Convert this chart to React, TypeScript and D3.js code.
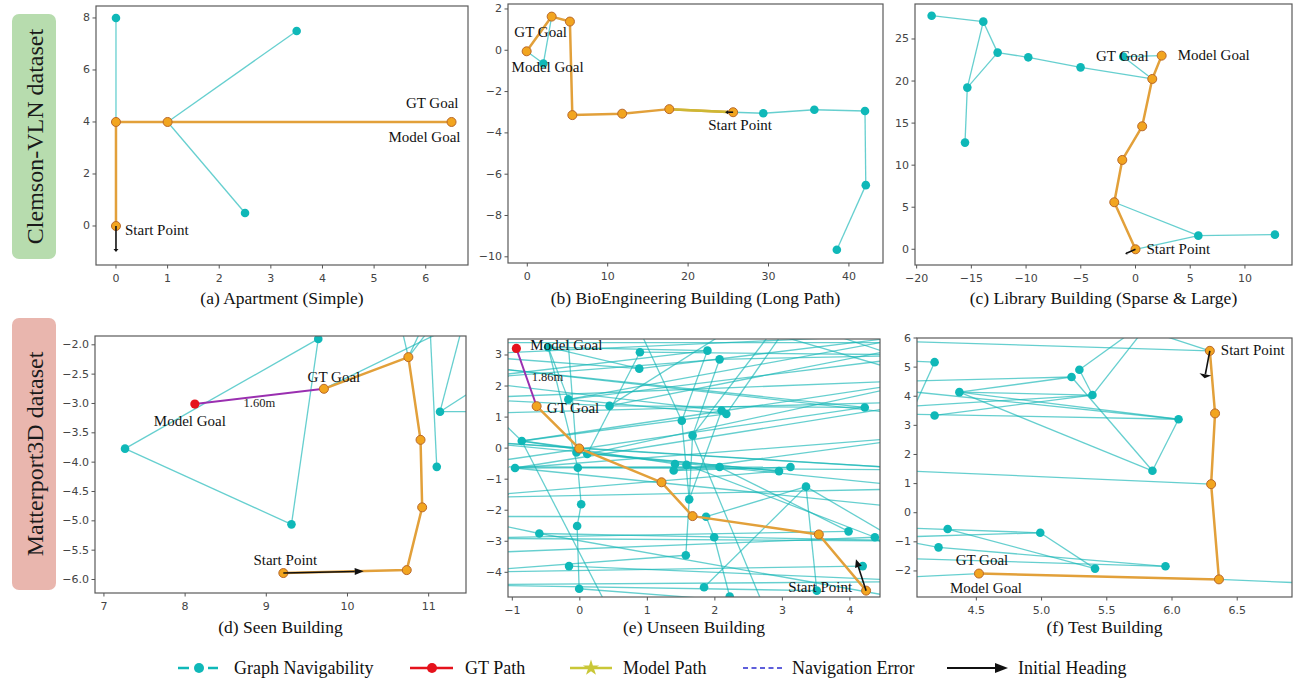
import React from 'react';
import * as d3 from 'd3';

type Pt = [number, number];

const SERIF = "'Liberation Serif', 'Times New Roman', serif";
const SANS = "'DejaVu Sans', sans-serif";

// (a) Apartment (Simple)
const aNodes: Pt[] = [[0, 8], [3.5, 7.5], [2.5, 0.5], [0, 4], [1, 4], [6.5, 4], [0, 0]];
const aEdges: Pt[] = [[0, 3], [4, 1], [4, 2]];
const aPath = [6, 3, 4, 5];
const aHeading: Pt = [0, -1];
const aXTicks = [0, 1, 2, 3, 4, 5, 6];
const aYTicks = [0, 2, 4, 6, 8];

// (b) BioEngineering Building (Long Path)
const bNodes: Pt[] = [
  [25.6, -3.0], [17.66, -2.85], [11.8, -3.07], [5.6, -3.14], [5.3, 1.39], [3.03, 1.63], [-0.08, -0.05],
  [2.0, -0.64], [29.35, -3.05], [35.7, -2.88], [42.0, -2.94], [42.1, -6.53], [38.5, -9.66],
];
const bEdges: Pt[] = [[6, 7], [7, 5], [0, 8], [8, 9], [9, 10], [10, 11], [11, 12]];
const bPath = [0, 1, 2, 3, 4, 5, 6];
const bHeading: Pt = [24.6, -3.0];
const bXTicks = [0, 10, 20, 30, 40];
const bYTicks = [2, 0, -2, -4, -6, -8, -10];

// (c) Library Building (Sparse & Large)
const cNodes: Pt[] = [
  [0, 0], [-1.94, 5.59], [-1.21, 10.62], [0.61, 14.62], [1.53, 20.25], [2.39, 23.02],
  [-18.63, 27.77], [-13.91, 27.06], [-12.6, 23.38], [-9.8, 22.82], [-5.02, 21.63], [-15.37, 19.22],
  [-15.58, 12.68], [-1.12, 22.9], [5.74, 1.62], [12.74, 1.74],
];
const cEdges: Pt[] = [
  [6, 7], [7, 8], [7, 11], [8, 11], [11, 12], [8, 9], [9, 10], [10, 4], [13, 5], [13, 4],
  [1, 14], [14, 15], [0, 14],
];
const cPath = [0, 1, 2, 3, 4, 5];
const cHeading: Pt = [-0.94, -0.55];
const cXTicks = [-20, -15, -10, -5, 0, 5, 10];
const cYTicks = [0, 5, 10, 15, 20, 25];

// (d) Seen Building
const dNodes: Pt[] = [
  [8.12, -3.01], [9.71, -2.75], [10.75, -2.21], [10.9, -3.62], [10.92, -4.77], [10.73, -5.84], [9.21, -5.89],
  [9.64, -1.9], [7.26, -3.77], [9.31, -5.06], [11.14, -3.14], [11.1, -4.08],
  [10.63, -1.5], [10.99, -1.5], [11.14, -1.5], [11.01, -1.5], [11.75, -2.6], [11.7, -3.14], [11.45, -1.5],
  [11.2, -1.75],
];
const dEdges: Pt[] = [
  [8, 7], [7, 9], [8, 9], [2, 12], [2, 13], [2, 14], [11, 15], [10, 16], [10, 17], [10, 18], [1, 19],
];
const dPath = [6, 5, 4, 3, 2, 1];
const dModelGoal = 0;
const dHeading: Pt = [10.2, -5.86];
const dXTicks = [7, 8, 9, 10, 11];
const dYTicks = [-2, -2.5, -3, -3.5, -4, -4.5, -5, -5.5, -6];

// (e) Unseen Building
const eNodes: Pt[] = [
  [-0.47, 3.25], [0.89, 3.09], [0.88, 2.56], [1.89, 3.14], [2.07, 2.86], [-0.17, 1.57], [0.44, 1.36],
  [4.22, 1.31], [2.1, 1.21], [2.17, 1.1], [1.51, 0.88], [1.67, 0.41], [-0.86, 0.23], [0.11, -0.19],
  [-0.05, -0.14], [-0.96, -0.64], [-0.03, -0.63], [1.41, -0.51], [1.39, -0.72], [1.58, -0.54],
  [2.07, -0.61], [2.95, -0.74], [3.12, -0.61], [3.35, -1.24], [1.62, -1.65], [0.02, -1.81],
  [1.87, -2.21], [3.98, -2.68], [4.37, -2.87], [-0.6, -2.75], [-0.04, -2.51], [1.99, -2.87],
  [1.57, -3.45], [-0.16, -3.8], [4.19, -3.8], [-0.01, -4.53], [1.84, -4.48], [3.51, -4.59], [2.22, -4.78],
  [-0.64, 1.35], [-0.01, -0.01], [1.21, -1.1], [1.67, -2.19], [3.54, -2.78], [4.24, -4.59],
  [-1.8, 3.0], [-1.8, 2.2], [-1.8, 1.6], [-1.8, 0.25], [-1.8, -0.6], [-1.8, -2.2], [-1.8, -2.9],
  [-1.8, -4.0], [-1.8, -4.4], [5.2, 3.7], [5.2, 3.0], [5.2, 2.2], [5.2, 1.5], [5.2, -0.7], [5.2, -1.3],
  [5.2, -3.0], [5.2, -3.6], [5.2, -4.3], [2.5, 4.2], [2.05, 4.2], [3.16, 4.2], [0.5, -5.5], [2.8, -5.5],
  [4.6, -5.3], [-0.94, 3.21], [3.0, 4.2], [-1.8, -1.6], [5.2, 0.4], [5.2, 2.6],
  [-1.8, 2.7], [-1.8, 1.1], [5.2, 1.0], [5.2, 3.4], [-1.8, 3.4], [5.2, -2.0], [-1.8, -3.4], [5.2, -5.0],
  [0.8, 4.2], [-0.2, 4.2],
];
const eEdges: Pt[] = [
  [45, 54], [0, 3], [1, 55], [46, 4], [4, 55], [2, 54], [45, 2], [0, 5], [1, 13], [3, 10], [4, 11],
  [63, 6], [0, 16], [65, 9], [11, 70], [64, 56], [70, 73],
  [48, 40], [12, 40], [40, 58], [14, 59], [48, 58], [15, 20], [49, 22], [16, 58], [15, 57], [49, 7],
  [13, 56], [6, 7], [47, 56], [46, 8], [47, 6], [5, 9], [12, 17], [14, 21], [17, 19], [18, 22],
  [20, 27], [19, 28], [10, 24], [11, 24], [24, 32], [8, 24], [16, 25], [25, 30], [30, 35], [23, 26],
  [23, 37], [23, 61], [36, 23], [26, 31], [31, 38], [29, 50], [29, 60], [51, 27], [33, 62], [52, 34],
  [53, 37], [35, 68], [52, 32], [50, 26], [66, 12], [67, 11], [28, 62], [12, 46], [2, 0], [5, 54],
  [71, 21], [71, 59], [18, 72], [15, 72], [53, 62], [51, 60],
  [74, 7], [78, 77], [75, 57], [74, 76], [12, 56], [6, 77], [5, 55], [82, 10], [83, 14], [80, 28],
  [79, 15], [81, 29], [48, 21], [12, 9], [46, 3],
];
const ePath = [44, 43, 42, 41, 40, 39];
const eModelGoal = 69;
const eHeading: Pt = [4.09, -3.58];
const eXTicks = [-1, 0, 1, 2, 3, 4];
const eYTicks = [-4, -3, -2, -1, 0, 1, 2, 3];

// (f) Test Building
const fNodes: Pt[] = [
  [4.18, 5.17], [4.37, 4.14], [4.18, 3.34], [5.29, 4.91], [5.23, 4.66], [5.39, 4.04], [6.05, 3.21],
  [5.85, 1.44], [4.28, -0.56], [4.21, -1.19], [4.99, -0.69], [5.41, -1.92], [5.95, -1.84],
  [6.29, 5.56], [6.33, 3.41], [6.3, 0.98], [6.36, -2.29], [4.52, -2.09],
  [3.8, 5.9], [5.85, 6.2], [5.77, 6.2], [5.69, 6.2], [3.8, 5.25], [3.99, 3.3], [3.8, 4.5], [3.8, 4.25],
  [3.8, 3.6], [3.8, 1.47], [3.8, -0.5], [3.8, -0.85], [3.8, -1.55], [3.8, -2.25], [7.2, -2.45], [3.8, 3.4],
];
const fEdges: Pt[] = [
  [18, 13], [13, 19], [5, 20], [3, 21], [0, 22], [0, 23], [1, 6], [1, 7], [4, 7], [7, 6], [24, 4],
  [3, 5], [2, 5], [26, 5], [25, 6], [33, 6], [27, 15], [8, 11], [28, 10], [29, 10], [10, 11], [9, 12],
  [30, 12], [29, 9], [31, 17], [16, 32], [1, 5], [1, 4],
];
const fPath = [13, 14, 15, 16, 17];
const fHeading: Pt = [6.25, 4.62];
const fXTicks = [4.5, 5.0, 5.5, 6.0, 6.5];
const fYTicks = [-2, -1, 0, 1, 2, 3, 4, 5, 6];

const captions = [
  '(a) Apartment (Simple)',
  '(b) BioEngineering Building (Long Path)',
  '(c) Library Building (Sparse & Large)',
  '(d) Seen Building',
  '(e) Unseen Building',
  '(f) Test Building',
];
const errorTexts = ['1.60m', '1.86m'];
const legendLabels = ['Graph Navigability', 'GT Path', 'Model Path', 'Navigation Error', 'Initial Heading'];
const datasetLabels = ['Clemson-VLN dataset', 'Matterport3D dataset'];

const panels = [
  {
    key: 'a', box: [96, 6, 468, 265], xd: [-0.387, 6.819], yd: [-1.5, 8.46], xt: aXTicks, yt: aYTicks, xf: 'd', yf: 'd',
    nodes: aNodes, edges: aEdges, path: aPath, heading: aHeading, head: [3, 5], capY: 298, caption: captions[0],
    labels: [
      { t: 'GT Goal', n: 5, dx: 7, dy: -19, a: 'end' },
      { t: 'Model Goal', n: 5, dx: 9, dy: 15, a: 'end' },
      { t: 'Start Point', n: 6, dx: 9, dy: 4, a: 'start' },
    ],
  },
  {
    key: 'b', box: [508, 4, 883, 263], xd: [-2.4, 44.24], yd: [-10.3, 2.24], xt: bXTicks, yt: bYTicks, xf: 'd', yf: 'd',
    nodes: bNodes, edges: bEdges, path: bPath, modelOnly: 1, heading: bHeading, head: [3, 4], capY: 298, caption: captions[1],
    labels: [
      { t: 'GT Goal', n: 6, dx: 14, dy: -19, a: 'middle' },
      { t: 'Model Goal', n: 6, dx: 21, dy: 16, a: 'middle' },
      { t: 'Start Point', n: 0, dx: 7, dy: 13, a: 'middle' },
    ],
  },
  {
    key: 'c', box: [915, 4, 1292, 265], xd: [-20.15, 14.3], yd: [-1.87, 29.16], xt: cXTicks, yt: cYTicks, xf: 'd', yf: 'd',
    nodes: cNodes, edges: cEdges, path: cPath, heading: cHeading, head: [2, 3], capY: 298, caption: captions[2],
    labels: [
      { t: 'GT Goal', n: 13, dx: -1, dy: -1, a: 'middle' },
      { t: 'Model Goal', n: 5, dx: 16, dy: -1, a: 'start' },
      { t: 'Start Point', n: 0, dx: 11, dy: 0, a: 'start' },
    ],
  },
  {
    key: 'd', box: [95, 336, 466, 593], xd: [6.89, 11.46], yd: [-6.23, -1.85], xt: dXTicks, yt: dYTicks, xf: 'd', yf: '.1f',
    nodes: dNodes, edges: dEdges, path: dPath, red: dModelGoal, err: errorTexts[0], errOff: [0, 7],
    heading: dHeading, head: [9, 7], capY: 627, caption: captions[3],
    labels: [
      { t: 'GT Goal', n: 1, dx: 10, dy: -12, a: 'middle' },
      { t: 'Model Goal', n: 0, dx: -5, dy: 17, a: 'middle' },
      { t: 'Start Point', n: 6, dx: 2, dy: -13, a: 'middle' },
    ],
  },
  {
    key: 'e', box: [508, 339, 880, 597], xd: [-1.064, 4.446], yd: [-4.795, 3.515], xt: eXTicks, yt: eYTicks, xf: 'd', yf: 'd',
    nodes: eNodes, edges: eEdges, path: ePath, red: eModelGoal, err: errorTexts[1], errOff: [21, 0],
    heading: eHeading, head: [8, 7], capY: 627, caption: captions[4],
    labels: [
      { t: 'Model Goal', n: 69, dx: 14, dy: -3, a: 'start' },
      { t: 'GT Goal', n: 39, dx: 10, dy: 2, a: 'start' },
      { t: 'Start Point', n: 44, dx: -14, dy: -4, a: 'end' },
    ],
  },
  {
    key: 'f', box: [917, 338, 1292, 597], xd: [4.045, 6.92], yd: [-2.895, 6.0], xt: fXTicks, yt: fYTicks, xf: '.1f', yf: 'd',
    nodes: fNodes, edges: fEdges, path: fPath, heading: fHeading, head: [4, 12], capY: 627, caption: captions[5],
    labels: [
      { t: 'Start Point', n: 13, dx: 11, dy: -1, a: 'start' },
      { t: 'GT Goal', n: 17, dx: 3, dy: -14, a: 'middle' },
      { t: 'Model Goal', n: 17, dx: 7, dy: 14, a: 'middle' },
    ],
  },
];

const TEAL = '#0fb8b8';
const ORANGE_LINE = '#e2a03a';
const ORANGE_FILL = '#f2a51f';
const ORANGE_EDGE = '#b9682a';

const Panel = ({ p }: { p: any }) => {
  const [x0, y0, x1, y1] = p.box;
  const x = d3.scaleLinear().domain(p.xd).range([x0, x1]);
  const y = d3.scaleLinear().domain(p.yd).range([y1, y0]);
  const xf = d3.format(p.xf);
  const yf = d3.format(p.yf);
  const line = d3.line<Pt>().x(d => x(d[0])).y(d => y(d[1]));
  const pts: Pt[] = p.path.map((i: number) => p.nodes[i]);
  const onPath = new Set<number>(p.path);
  const clipId = `clip-${p.key}`;
  const P = (i: number) => [x(p.nodes[i][0]), y(p.nodes[i][1])];

  // heading arrow
  const [sx, sy] = P(p.path[0]);
  const ex = x(p.heading[0]);
  const ey = y(p.heading[1]);
  const len = Math.hypot(ex - sx, ey - sy);
  const ux = (ex - sx) / len;
  const uy = (ey - sy) / len;
  const [hl, hw] = p.head;
  const bx = ex - ux * hl;
  const by = ey - uy * hl;
  const headPts = [
    [ex, ey],
    [bx - uy * hw / 2, by + ux * hw / 2],
    [bx + uy * hw / 2, by - ux * hw / 2],
  ].map(q => q.join(',')).join(' ');

  const goal = p.path[p.path.length - 1];

  return (
    <g>
      <defs>
        <clipPath id={clipId}>
          <rect x={x0} y={y0} width={x1 - x0} height={y1 - y0} />
        </clipPath>
      </defs>
      <g clipPath={`url(#${clipId})`}>
        {p.edges.map(([i, j]: Pt, k: number) => (
          <line key={k} x1={P(i)[0]} y1={P(i)[1]} x2={P(j)[0]} y2={P(j)[1]}
            stroke="#14b5b5" strokeOpacity={0.65} strokeWidth={1.3} />
        ))}
        {p.nodes.map((n: Pt, i: number) => (onPath.has(i) || i === p.red ? null : (
          <circle key={i} cx={x(n[0])} cy={y(n[1])} r={4.3} fill={TEAL} />
        )))}
        <path d={line(pts) || ''} fill="none" stroke={ORANGE_LINE} strokeWidth={2.5} strokeLinejoin="round" />
        {p.modelOnly ? (
          <path d={line(pts.slice(0, p.modelOnly + 1)) || ''} fill="none" stroke="#cdb834" strokeWidth={2.5} />
        ) : null}
        {p.red != null ? (
          <line x1={P(goal)[0]} y1={P(goal)[1]} x2={P(p.red)[0]} y2={P(p.red)[1]} stroke="#9a2fb0" strokeWidth={2} />
        ) : null}
        {pts.map((n, i) => (
          <circle key={i} cx={x(n[0])} cy={y(n[1])} r={4.5} fill={ORANGE_FILL} stroke={ORANGE_EDGE} strokeWidth={1} />
        ))}
        {p.red != null ? <circle cx={P(p.red)[0]} cy={P(p.red)[1]} r={4.6} fill="#e5121c" /> : null}
        <line x1={sx} y1={sy} x2={bx} y2={by} stroke="#111" strokeWidth={1.6} />
        <polygon points={headPts} fill="#111" />
      </g>
      <rect x={x0} y={y0} width={x1 - x0} height={y1 - y0} fill="none" stroke="#5a5a5a" strokeWidth={1.2} />
      {p.xt.map((t: number) => (
        <g key={`x${t}`}>
          <line x1={x(t)} x2={x(t)} y1={y1} y2={y1 + 3.5} stroke="#555" strokeWidth={1} />
          <text x={x(t)} y={y1 + 13} textAnchor="middle" dominantBaseline="central"
            fontFamily={SANS} fontSize={11} fill="#444">{xf(t)}</text>
        </g>
      ))}
      {p.yt.map((t: number) => (
        <g key={`y${t}`}>
          <line x1={x0 - 3.5} x2={x0} y1={y(t)} y2={y(t)} stroke="#555" strokeWidth={1} />
          <text x={x0 - 6} y={y(t)} textAnchor="end" dominantBaseline="central"
            fontFamily={SANS} fontSize={11} fill="#444">{yf(t)}</text>
        </g>
      ))}
      {p.err ? (
        <text x={(P(goal)[0] + P(p.red)[0]) / 2 + p.errOff[0]} y={(P(goal)[1] + P(p.red)[1]) / 2 + p.errOff[1]}
          textAnchor="middle" dominantBaseline="central" fontFamily={SERIF} fontSize={12.5} fill="#222">{p.err}</text>
      ) : null}
      {p.labels.map((l: any, k: number) => (
        <text key={k} x={P(l.n)[0] + l.dx} y={P(l.n)[1] + l.dy} textAnchor={l.a} dominantBaseline="central"
          fontFamily={SERIF} fontSize={15} fill="#111">{l.t}</text>
      ))}
      <text x={(x0 + x1) / 2} y={p.capY} textAnchor="middle" dominantBaseline="central"
        fontFamily={SERIF} fontSize={17.5} fill="#111">{p.caption}</text>
    </g>
  );
};

const Legend = () => {
  const cy = 668;
  const star = d3.symbol().type(d3.symbolStar).size(80)() || '';
  return (
    <g fontFamily={SERIF} fontSize={18} fill="#111">
      <line x1={178} x2={189} y1={cy} y2={cy} stroke={TEAL} strokeWidth={2.5} />
      <line x1={208} x2={218} y1={cy} y2={cy} stroke={TEAL} strokeWidth={2.5} />
      <circle cx={199} cy={cy} r={5} fill={TEAL} />
      <text x={234} y={cy} dominantBaseline="central">{legendLabels[0]}</text>

      <line x1={410} x2={453} y1={cy} y2={cy} stroke="#e5121c" strokeWidth={2.5} />
      <circle cx={432} cy={cy} r={5} fill="#e5121c" />
      <text x={465} y={cy} dominantBaseline="central">{legendLabels[1]}</text>

      <line x1={570} x2={612} y1={cy} y2={cy} stroke="#c9c737" strokeWidth={2.5} />
      <path d={star} transform={`translate(591,${cy})`} fill="#c9c737" />
      <text x={623} y={cy} dominantBaseline="central">{legendLabels[2]}</text>

      <line x1={743} x2={782} y1={cy} y2={cy} stroke="#2a2ad0" strokeWidth={1.6} strokeDasharray="5,3.5" />
      <text x={792} y={cy} dominantBaseline="central">{legendLabels[3]}</text>

      <line x1={947} x2={996} y1={cy} y2={cy} stroke="#111" strokeWidth={2} />
      <polygon points={`1008,${cy} 995,${cy - 5} 995,${cy + 5}`} fill="#111" />
      <text x={1018} y={cy} dominantBaseline="central">{legendLabels[4]}</text>
    </g>
  );
};

const SideLabel = ({ y0, y1, fill, text }: { y0: number; y1: number; fill: string; text: string }) => (
  <g>
    <rect x={12} y={y0} width={44} height={y1 - y0} rx={7} fill={fill} />
    <text transform={`translate(35,${(y0 + y1) / 2}) rotate(-90)`} textAnchor="middle" dominantBaseline="central"
      fontFamily={SERIF} fontSize={24} fill="#1a1a1a">{text}</text>
  </g>
);

export default function App() {
  return (
    <svg width={1296} height={681} style={{ position: 'fixed', left: 0, top: 0, background: '#fff' }}>
      <rect width={1296} height={681} fill="#fff" />
      <SideLabel y0={14} y1={259} fill="#b7dcae" text={datasetLabels[0]} />
      <SideLabel y0={318} y1={590} fill="#e9b6ae" text={datasetLabels[1]} />
      {panels.map(p => <Panel key={p.key} p={p} />)}
      <Legend />
    </svg>
  );
}
